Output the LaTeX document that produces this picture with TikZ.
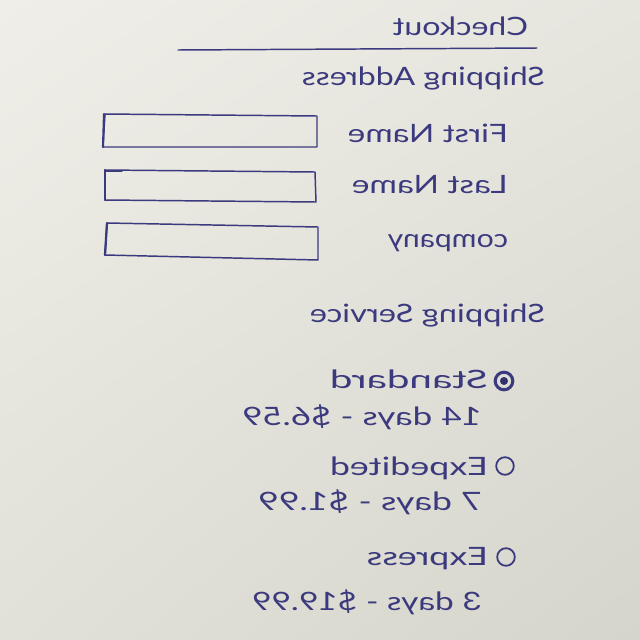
\documentclass[tikz,border=0pt]{standalone}
\usepackage{fontspec}
\setmainfont{Lato}
\usetikzlibrary{shadings}
\newlength\pxu
\setlength\pxu{0.025cm}
% mirror-written label, stretched to a given width (in px units)
\newcommand\mirtext[2]{\reflectbox{\resizebox{#1\pxu}{\height}{#2}}}
\definecolor{ink}{RGB}{60,58,126}
\definecolor{paperA}{RGB}{239,238,232}
\definecolor{paperB}{RGB}{230,229,222}
\definecolor{paperC}{RGB}{226,225,216}
\definecolor{paperD}{RGB}{214,213,204}
\begin{document}
\begin{tikzpicture}[x=0.025cm,y=-0.025cm,
  pen/.style={draw=ink, line width=1.05pt, line join=round, line cap=round},
  hw/.style={text=ink, anchor=base east, inner sep=0pt, outer sep=0pt,
    font=\fontsize{18}{20}\selectfont},
  radio/.style={circle, draw=ink, line width=1.3pt, minimum size=0.44cm, inner sep=0pt},
  radioon/.style={radio, line width=2.2pt,
    path picture={\fill[ink!85!black] (path picture bounding box.center) circle (0.1cm);}}]

% paper
\shade[upper left=paperA, upper right=paperB, lower left=paperC, lower right=paperD]
  (0,0) rectangle (640,640);
\useasboundingbox (0,0) rectangle (640,640);

% header
\node[hw] (title) at (528,35) {\mirtext{135}{Checkout}};
\coordinate (ruleL) at (178,50);
\coordinate (ruleR) at (537,48);
\draw[pen] (ruleL) -- (ruleR);

% shipping address
\node[hw] (addr) at (545,85) {\mirtext{243}{Shipping Address}};

\node[hw] (first) at (508,142) {\mirtext{160}{First Name}};
\draw[pen] (105,114) -- (317,116) -- (317,147) -- (103,147) -- cycle;
\draw[pen, line width=1.5pt] (104,114) -- (103,147);

\node[hw] (last) at (508,193) {\mirtext{156}{Last Name}};
\draw[pen] (105,170) -- (315,172) -- (316,202) -- (105,200) -- cycle;
\draw[pen, line width=1.5pt] (105,170) -- (105,200);
\draw[pen] (105,171) -- (122,171);

\node[hw] (company) at (508,247) {\mirtext{120}{company}};
\draw[pen] (107,223) -- (318,227) -- (318,260) -- (105,255) -- cycle;
\draw[pen, line width=1.6pt] (107,223) -- (105,255);

% shipping service
\node[hw] (service) at (545,322) {\mirtext{235}{Shipping Service}};

\node[radioon] (rstd) at (504,381) {};
\node[hw] (std) at (488,388) {\mirtext{158}{Standard}};
\node[hw] (stdp) at (482,425) {\mirtext{240}{14 days - \$6.59}};

\node[radio] (rexp) at (505,466) {};
\node[hw] (exped) at (488,475) {\mirtext{158}{Expedited}};
\node[hw] (expp) at (482,510) {\mirtext{224}{7 days - \$1.99}};

\node[radio] (rxpr) at (506,557) {};
\node[hw] (xpr) at (488,565) {\mirtext{121}{Express}};
\node[hw] (xprp) at (482,610) {\mirtext{230}{3 days - \$19.99}};
\end{tikzpicture}
\end{document}
